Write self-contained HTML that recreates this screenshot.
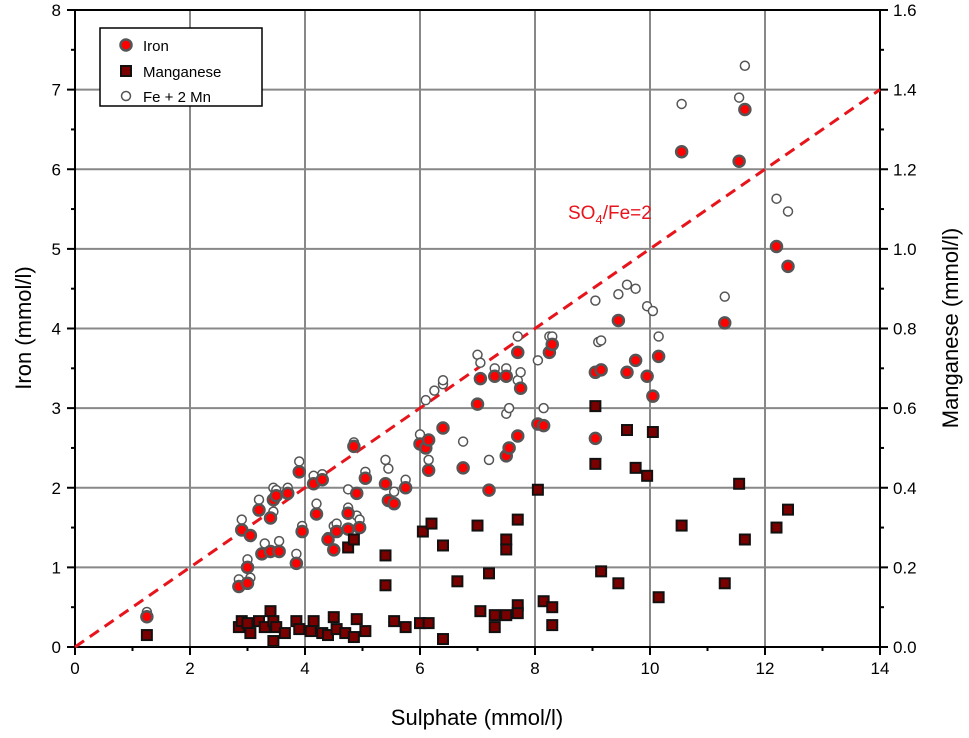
<!DOCTYPE html>
<html><head><meta charset="utf-8"><style>
body{margin:0;background:#fff;}
svg text{font-family:"Liberation Sans",Arial,sans-serif;}
</style></head><body>
<svg id="chart" width="969" height="733"></svg>
<script>
const feX=[1.25,2.85,2.9,3.0,3.0,3.05,3.2,3.25,3.4,3.4,3.45,3.5,3.55,3.7,3.85,3.9,3.95,4.15,4.2,4.3,4.4,4.5,4.55,4.75,4.75,4.85,4.9,4.95,5.05,5.4,5.45,5.55,5.75,6.0,6.1,6.15,6.15,6.4,6.75,7.0,7.05,7.2,7.3,7.5,7.5,7.55,7.7,7.7,7.75,8.05,8.15,8.25,8.3,9.05,9.05,9.15,9.45,9.6,9.75,9.95,10.05,10.15,10.55,11.3,11.55,11.65,12.2,12.4];
const feY=[0.38,0.76,1.47,1.0,0.8,1.4,1.72,1.17,1.2,1.62,1.85,1.9,1.2,1.93,1.05,2.2,1.45,2.05,1.67,2.1,1.35,1.22,1.45,1.48,1.68,2.52,1.93,1.5,2.12,2.05,1.84,1.8,2.0,2.55,2.5,2.6,2.22,2.75,2.25,3.05,3.37,1.97,3.4,3.4,2.4,2.5,3.7,2.65,3.25,2.8,2.78,3.7,3.8,3.45,2.62,3.48,4.1,3.45,3.6,3.4,3.15,3.65,6.22,4.07,6.1,6.75,5.03,4.78];
const mnX=[1.25,2.85,2.9,3.0,3.05,3.2,3.3,3.4,3.45,3.45,3.5,3.65,3.85,3.9,4.15,4.1,4.3,4.4,4.5,4.55,4.7,4.75,4.85,4.85,4.9,5.05,5.4,5.4,5.55,5.75,6.0,6.05,6.15,6.2,6.4,6.4,6.65,7.0,7.05,7.2,7.3,7.3,7.5,7.5,7.5,7.7,7.7,7.7,8.05,8.15,8.3,8.3,9.05,9.05,9.15,9.45,9.6,9.75,9.95,10.05,10.15,10.55,11.3,11.55,11.65,12.2,12.4];
const mnY=[0.03,0.05,0.065,0.06,0.035,0.065,0.05,0.09,0.015,0.065,0.05,0.035,0.065,0.045,0.065,0.04,0.035,0.03,0.075,0.045,0.035,0.25,0.27,0.025,0.07,0.04,0.155,0.23,0.065,0.05,0.06,0.29,0.06,0.31,0.255,0.02,0.165,0.305,0.09,0.185,0.08,0.05,0.27,0.245,0.08,0.32,0.105,0.085,0.395,0.115,0.1,0.055,0.605,0.46,0.19,0.16,0.545,0.45,0.43,0.54,0.125,0.305,0.16,0.41,0.27,0.3,0.345];
const sumX=[1.25,2.85,2.9,3.0,3.05,3.2,3.3,3.45,3.45,3.5,3.55,3.7,3.85,3.9,3.95,4.15,4.2,4.3,4.4,4.5,4.55,4.75,4.75,4.85,4.9,4.95,5.05,5.4,5.45,5.55,5.75,6.0,6.1,6.15,6.25,6.4,6.4,6.75,7.0,7.05,7.2,7.3,7.5,7.5,7.55,7.7,7.7,7.75,8.05,8.15,8.25,8.3,9.05,9.1,9.15,9.45,9.6,9.75,9.95,10.05,10.15,10.55,11.3,11.55,11.65,12.2,12.4];
const sumY=[0.44,0.85,1.6,1.1,0.87,1.85,1.3,2.0,1.7,1.97,1.33,2.0,1.17,2.33,1.52,2.15,1.8,2.17,1.38,1.52,1.55,1.98,1.75,2.57,1.65,1.6,2.2,2.35,2.24,1.95,2.1,2.67,3.1,2.35,3.22,3.3,3.35,2.58,3.67,3.57,2.35,3.5,3.5,2.93,3.0,3.9,3.35,3.45,3.6,3.0,3.9,3.9,4.35,3.83,3.85,4.43,4.55,4.5,4.28,4.22,3.9,6.82,4.4,6.9,7.3,5.63,5.47];
const xTicks=[0,2,4,6,8,10,12,14];
const yTicks=[0,1,2,3,4,5,6,7,8];
const y2Ticks=[0,0.2,0.4,0.6,0.8,1.0,1.2,1.4,1.6];

const L=75,R=880,T=10,B=647;
const sx=v=>L+(R-L)*v/14;
const sy=v=>B-(B-T)*v/8;
const sy2=v=>B-(B-T)*v/1.6;
const NS='http://www.w3.org/2000/svg';
const svg=document.getElementById('chart');
function mk(tag,at,parent){const e=document.createElementNS(NS,tag);for(const k in at)e.setAttribute(k,at[k]);(parent||svg).appendChild(e);return e;}

// grid
xTicks.forEach(v=>{if(v>0&&v<14){const g=mk('line',{x1:sx(v),x2:sx(v),y1:T,y2:B,stroke:'#888','stroke-width':2});

}});
yTicks.forEach(v=>{if(v>0&&v<8){const g=mk('line',{x1:L,x2:R,y1:sy(v),y2:sy(v),stroke:'#888','stroke-width':2});

}});
// frame
const fr=mk('rect',{x:L,y:T,width:R-L,height:B-T,fill:'none',stroke:'#000','stroke-width':2});


// ticks
for(let v=0;v<=14;v+=1){const len=v%2===0?8:4;mk('line',{x1:sx(v),x2:sx(v),y1:B,y2:B+len,stroke:'#000','stroke-width':2});}
for(let v=0;v<=8;v+=0.5){const len=Number.isInteger(v)?8:4;mk('line',{x1:L-len,x2:L,y1:sy(v),y2:sy(v),stroke:'#000','stroke-width':2});mk('line',{x1:R,x2:R+len,y1:sy(v),y2:sy(v),stroke:'#000','stroke-width':2});}
xTicks.forEach(v=>{const t=mk('text',{x:sx(v),y:B+27,'font-size':17,'text-anchor':'middle'});t.textContent=v;

});
yTicks.forEach(v=>{const t=mk('text',{x:L-14,y:sy(v)+6,'font-size':17,'text-anchor':'end'});t.textContent=v;

});
y2Ticks.forEach(v=>{const t=mk('text',{x:R+13,y:sy2(v)+6,'font-size':17,'text-anchor':'start'});t.textContent=v.toFixed(1);

});
// ratio line
const rl=mk('line',{x1:sx(0),y1:sy(0),x2:sx(14),y2:sy(7),stroke:'#e8141b','stroke-width':3,'stroke-dasharray':'11,7'});


// series
sumX.forEach((x,i)=>{const c=mk('circle',{cx:sx(x),cy:sy(sumY[i]),r:4.5,fill:'#fff',stroke:'#555','stroke-width':1.5});

});
feX.forEach((x,i)=>{const c=mk('circle',{cx:sx(x),cy:sy(feY[i]),r:5.5,fill:'#f00',stroke:'#555','stroke-width':2.5});

});
mnX.forEach((x,i)=>{const c=mk('rect',{x:sx(x)-5,y:sy2(mnY[i])-5,width:10,height:10,fill:'#7a0000',stroke:'#111','stroke-width':2});

});
</script>
<svg width="969" height="733" style="position:absolute;left:0;top:0">
<text x="568" y="219" font-size="19" fill="#e8141b">SO<tspan font-size="13" dy="5">4</tspan><tspan dy="-5">/Fe=2</tspan></text>
<g>
<rect x="100" y="28" width="162" height="78" fill="#fff" stroke="#000" stroke-width="1.5"/>
<circle cx="126" cy="45" r="5.5" fill="#f00" stroke="#555" stroke-width="2.5"/>
<text x="143" y="51" font-size="15">Iron</text>
<rect x="121" y="66" width="10" height="10" fill="#7a0000" stroke="#111" stroke-width="2"/>
<text x="143" y="77" font-size="15">Manganese</text>
<circle cx="126" cy="96" r="4.5" fill="#fff" stroke="#555" stroke-width="1.5"/>
<text x="143" y="102" font-size="15">Fe + 2 Mn</text>
</g>
<text x="477" y="725" font-size="22" text-anchor="middle">Sulphate (mmol/l)</text>
<text transform="translate(31,328) rotate(-90)" font-size="22" text-anchor="middle">Iron (mmol/l)</text>
<text transform="translate(958,328) rotate(-90)" font-size="22" text-anchor="middle">Manganese (mmol/l)</text>
</svg>
</body></html>
